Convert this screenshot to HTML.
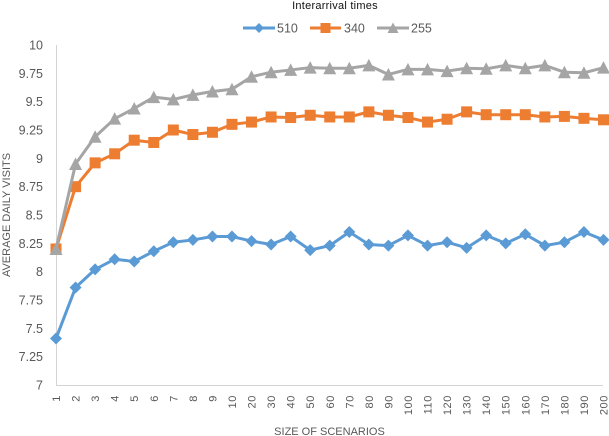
<!DOCTYPE html>
<html lang="en">
<head>
<meta charset="utf-8">
<title>Average daily visits by size of scenarios</title>
<style>
html,body{margin:0;padding:0;background:#fff;width:609px;height:436px;overflow:hidden}
svg{display:block;font-family:"Liberation Sans",sans-serif;filter:blur(0.35px)}
</style>
</head>
<body>
<svg id="chart" xmlns="http://www.w3.org/2000/svg" width="609" height="436" viewBox="0 0 609 436">
  <text x="335" y="9" text-anchor="middle" font-size="11" letter-spacing="0.25" fill="#111">Interarrival times</text>
  <text x="329.5" y="435" text-anchor="middle" font-size="11" fill="#595959">SIZE OF SCENARIOS</text>
  <text transform="translate(10,215) rotate(-90)" text-anchor="middle" font-size="11" fill="#595959">AVERAGE DAILY VISITS</text>
  <line x1="56.5" y1="45" x2="56.5" y2="385" stroke="#d4d4d4" stroke-width="1"/>
  <line x1="56" y1="385.5" x2="603" y2="385.5" stroke="#d4d4d4" stroke-width="1"/>
  <g id="y-ticks"></g>
  <g id="x-ticks"></g>
  <g id="series"></g>
  <g id="legend"></g>
</svg>
<script>
const categories = ["1","2","3","4","5","6","7","8","9","10","20","30","40","50","60","70","80","90","100","110","120","130","140","150","160","170","180","190","200"];
const yTickLabels = ["7","7.25","7.5","7.75","8","8.25","8.5","8.75","9","9.25","9.5","9.75","10"];
const yTickValues = [7,7.25,7.5,7.75,8,8.25,8.5,8.75,9,9.25,9.5,9.75,10];
const seriesNames = ["510","340","255"];
const values510 = [7.41,7.86,8.02,8.11,8.09,8.18,8.26,8.28,8.31,8.31,8.27,8.24,8.31,8.19,8.23,8.35,8.24,8.23,8.32,8.23,8.26,8.21,8.32,8.25,8.33,8.23,8.26,8.35,8.28];
const values340 = [8.2,8.75,8.96,9.04,9.16,9.14,9.25,9.21,9.23,9.3,9.32,9.365,9.36,9.38,9.365,9.365,9.41,9.38,9.36,9.32,9.345,9.41,9.385,9.385,9.385,9.365,9.37,9.353,9.34];
const values255 = [8.2,8.95,9.19,9.35,9.44,9.54,9.52,9.56,9.59,9.61,9.72,9.76,9.78,9.8,9.795,9.795,9.82,9.74,9.785,9.785,9.77,9.795,9.79,9.82,9.795,9.82,9.76,9.755,9.8];

const NS = "http://www.w3.org/2000/svg";
const plot = {left:56, right:603.5, top:45, bottom:385};
const yMin = 7, yMax = 10;

function xScale(i){ return plot.left + i*(plot.right-plot.left)/(categories.length-1); }
function yScale(v){ return plot.bottom - (v-yMin)*(plot.bottom-plot.top)/(yMax-yMin); }
function make(tag){ return document.createElementNS(NS, tag); }

function drawMarker(parent, kind, x, y, color, size){
  let m;
  if(kind === "square"){
    m = make("rect");
    m.setAttribute("x", x-size);
    m.setAttribute("y", y-size);
    m.setAttribute("width", size*2);
    m.setAttribute("height", size*2);
  } else if(kind === "diamond"){
    m = make("polygon");
    m.setAttribute("points", [x,y-size, x+size,y, x,y+size, x-size,y].join(" "));
  } else {
    m = make("polygon");
    m.setAttribute("points", [x,y-size, x+size,y+size-0.5, x-size,y+size-0.5].join(" "));
  }
  m.setAttribute("fill", color);
  
  
  parent.appendChild(m);
}

const yTicksGroup = document.getElementById("y-ticks");
yTickValues.forEach(function(v, i){
  const t = make("text");
  
  
  t.setAttribute("x", 43);
  t.setAttribute("y", yScale(v)+4.5);
  t.setAttribute("text-anchor", "end");
  t.setAttribute("font-size", "12.5");
  t.setAttribute("fill", "#595959");
  t.textContent = yTickLabels[i];
  yTicksGroup.appendChild(t);
});

const xTicksGroup = document.getElementById("x-ticks");
categories.forEach(function(c, i){
  const t = make("text");
  
  
  t.setAttribute("transform", "translate(" + (xScale(i)+4) + ",395) rotate(-90)");
  t.setAttribute("text-anchor", "end");
  t.setAttribute("font-size", "11");
  t.setAttribute("letter-spacing", "0.6");
  t.setAttribute("fill", "#595959");
  t.textContent = c;
  xTicksGroup.appendChild(t);
});

const seriesGroup = document.getElementById("series");
function drawSeries(values, color, kind, size, name){
  const g = make("g");
  
  
  const line = make("polyline");
  
  
  line.setAttribute("points", values.map(function(v,i){ return xScale(i)+","+yScale(v); }).join(" "));
  line.setAttribute("fill", "none");
  line.setAttribute("stroke", color);
  line.setAttribute("stroke-width", "3");
  line.setAttribute("stroke-linejoin", "round");
  g.appendChild(line);
  values.forEach(function(v,i){ drawMarker(g, kind, xScale(i), yScale(v), color, size); });
  seriesGroup.appendChild(g);
}
drawSeries(values510, "#5b9bd5", "diamond", 6, "series-510");
drawSeries(values340, "#ed7d31", "square", 5.5, "series-340");
drawSeries(values255, "#a5a5a5", "triangle", 6.5, "series-255");

const legendGroup = document.getElementById("legend");
function drawLegend(x1, x2, textX, color, kind, size, label){
  const g = make("g");
  
  
  const l = make("line");
  
  
  l.setAttribute("x1", x1);
  l.setAttribute("x2", x2);
  l.setAttribute("y1", 28);
  l.setAttribute("y2", 28);
  l.setAttribute("stroke", color);
  l.setAttribute("stroke-width", "3");
  g.appendChild(l);
  drawMarker(g, kind, (x1+x2)/2, 28, color, size);
  const t = make("text");
  
  
  t.setAttribute("x", textX);
  t.setAttribute("y", 32.5);
  t.setAttribute("font-size", "12.5");
  t.setAttribute("fill", "#595959");
  t.textContent = label;
  g.appendChild(t);
  legendGroup.appendChild(g);
}
drawLegend(243, 275, 277, "#5b9bd5", "diamond", 5, seriesNames[0]);
drawLegend(310, 341, 344, "#ed7d31", "square", 5, seriesNames[1]);
drawLegend(377, 409, 411, "#a5a5a5", "triangle", 5.5, seriesNames[2]);
</script>
</body>
</html>
